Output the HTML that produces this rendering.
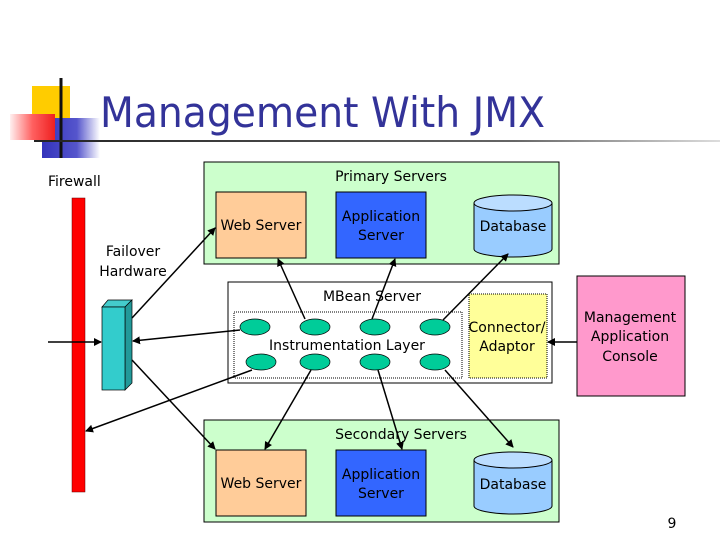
<!DOCTYPE html>
<html><head><meta charset="utf-8"><style>
body{margin:0;background:#fff;}
svg{display:block;}
text{font-family:"DejaVu Sans","Liberation Sans",sans-serif;font-size:14px;fill:#000;}
</style></head><body>
<svg width="720" height="540" viewBox="0 0 720 540" xmlns="http://www.w3.org/2000/svg">
<defs>
<linearGradient id="hl" x1="0" x2="1"><stop offset="0" stop-color="#222"/><stop offset="0.7" stop-color="#666"/><stop offset="1" stop-color="#ddd"/></linearGradient>
<linearGradient id="rd" x1="0" x2="1"><stop offset="0" stop-color="#fff0f0"/><stop offset="0.5" stop-color="#ff6060"/><stop offset="1" stop-color="#ee2020"/></linearGradient>
<linearGradient id="bl" x1="0" x2="1"><stop offset="0" stop-color="#3333bb"/><stop offset="0.6" stop-color="#5555cc"/><stop offset="1" stop-color="#fff"/></linearGradient>
<marker id="a" markerWidth="8" markerHeight="8" refX="7" refY="4" orient="auto" markerUnits="userSpaceOnUse"><path d="M0,0 L8,4 L0,8 z" fill="#000"/></marker>
</defs>
<rect x="32" y="86" width="38" height="34" fill="#ffcc00"/>
<rect x="42" y="118" width="58" height="40" fill="url(#bl)"/>
<rect x="10" y="114" width="45" height="26" fill="url(#rd)"/>
<line x1="61" y1="78" x2="61" y2="158" stroke="#111" stroke-width="3"/>
<rect x="34" y="140" width="686" height="2" fill="url(#hl)"/>
<text x="100" y="127" textLength="445" lengthAdjust="spacingAndGlyphs" style="font-size:42px;fill:#333399;font-family:'DejaVu Sans',sans-serif">Management With JMX</text>

<text x="48" y="186">Firewall</text>
<rect x="72" y="198" width="13" height="294" fill="#ff0000" stroke="#600" stroke-width="0.5"/>
<text x="133" y="256" text-anchor="middle">Failover</text>
<text x="133" y="276" text-anchor="middle">Hardware</text>

<polygon points="102,307 108,300 132,300 125,307" fill="#44cccc" stroke="#000" stroke-width="0.7"/>
<polygon points="125,307 132,300 132,383 125,390" fill="#229999" stroke="#000" stroke-width="0.7"/>
<rect x="102" y="307" width="23" height="83" fill="#33cccc" stroke="#000" stroke-width="0.7"/>

<rect x="204" y="162" width="355" height="102" fill="#ccffcc" stroke="#000"/>
<text x="391" y="181" text-anchor="middle">Primary Servers</text>
<rect x="216" y="192" width="90" height="66" fill="#ffcc99" stroke="#000"/>
<text x="261" y="230" text-anchor="middle">Web Server</text>
<rect x="336" y="192" width="90" height="66" fill="#3366ff" stroke="#000"/>
<text x="381" y="221" text-anchor="middle">Application</text>
<text x="381" y="240" text-anchor="middle">Server</text>
<path d="M474,203 L474,249 A39,8 0 0 0 552,249 L552,203" fill="#99ccff" stroke="#000"/>
<ellipse cx="513" cy="203" rx="39" ry="8" fill="#bbddff" stroke="#000"/>
<text x="513" y="231" text-anchor="middle">Database</text>

<rect x="228" y="282" width="324" height="101" fill="#fff" stroke="#000"/>
<rect x="234" y="312" width="228" height="66" fill="none" stroke="#000" stroke-dasharray="1,1"/>
<rect x="469" y="294" width="78" height="84" fill="#ffff99" stroke="#000" stroke-dasharray="1,1"/>
<text x="372" y="301" text-anchor="middle">MBean Server</text>
<text x="347" y="350" text-anchor="middle">Instrumentation Layer</text>
<text x="507" y="332" text-anchor="middle">Connector/</text>
<text x="507" y="351" text-anchor="middle">Adaptor</text>
<g fill="#00cc99" stroke="#000" stroke-width="0.7">
<ellipse cx="255" cy="327" rx="15" ry="8"/><ellipse cx="315" cy="327" rx="15" ry="8"/><ellipse cx="375" cy="327" rx="15" ry="8"/><ellipse cx="435" cy="327" rx="15" ry="8"/>
<ellipse cx="261" cy="362" rx="15" ry="8"/><ellipse cx="315" cy="362" rx="15" ry="8"/><ellipse cx="375" cy="362" rx="15" ry="8"/><ellipse cx="435" cy="362" rx="15" ry="8"/>
</g>

<rect x="577" y="276" width="108" height="120" fill="#ff99cc" stroke="#000"/>
<text x="630" y="322" text-anchor="middle">Management</text>
<text x="630" y="341" text-anchor="middle">Application</text>
<text x="630" y="361" text-anchor="middle">Console</text>

<rect x="204" y="420" width="355" height="102" fill="#ccffcc" stroke="#000"/>
<text x="401" y="439" text-anchor="middle">Secondary Servers</text>
<rect x="216" y="450" width="90" height="66" fill="#ffcc99" stroke="#000"/>
<text x="261" y="488" text-anchor="middle">Web Server</text>
<rect x="336" y="450" width="90" height="66" fill="#3366ff" stroke="#000"/>
<text x="381" y="479" text-anchor="middle">Application</text>
<text x="381" y="498" text-anchor="middle">Server</text>
<path d="M474,460 L474,506 A39,8 0 0 0 552,506 L552,460" fill="#99ccff" stroke="#000"/>
<ellipse cx="513" cy="460" rx="39" ry="8" fill="#bbddff" stroke="#000"/>
<text x="513" y="489" text-anchor="middle">Database</text>

<text x="672" y="528" text-anchor="middle">9</text>

<g stroke="#000" stroke-width="1.5" fill="none">
<line x1="48" y1="342" x2="101" y2="342" marker-end="url(#a)"/>
<line x1="132" y1="318" x2="215" y2="228" marker-end="url(#a)"/>
<line x1="240" y1="330" x2="133" y2="341" marker-end="url(#a)"/>
<line x1="252" y1="370" x2="86" y2="431" marker-end="url(#a)"/>
<line x1="132" y1="360" x2="215" y2="449" marker-end="url(#a)"/>
<line x1="305" y1="319" x2="278" y2="259" marker-end="url(#a)"/>
<line x1="372" y1="319" x2="395" y2="259" marker-end="url(#a)"/>
<line x1="443" y1="320" x2="508" y2="254" marker-end="url(#a)"/>
<line x1="311" y1="370" x2="265" y2="449" marker-end="url(#a)"/>
<line x1="378" y1="370" x2="402" y2="449" marker-end="url(#a)"/>
<line x1="445" y1="370" x2="513" y2="447" marker-end="url(#a)"/>
<line x1="577" y1="342" x2="548" y2="342" marker-end="url(#a)"/>
</g>
</svg>
</body></html>
